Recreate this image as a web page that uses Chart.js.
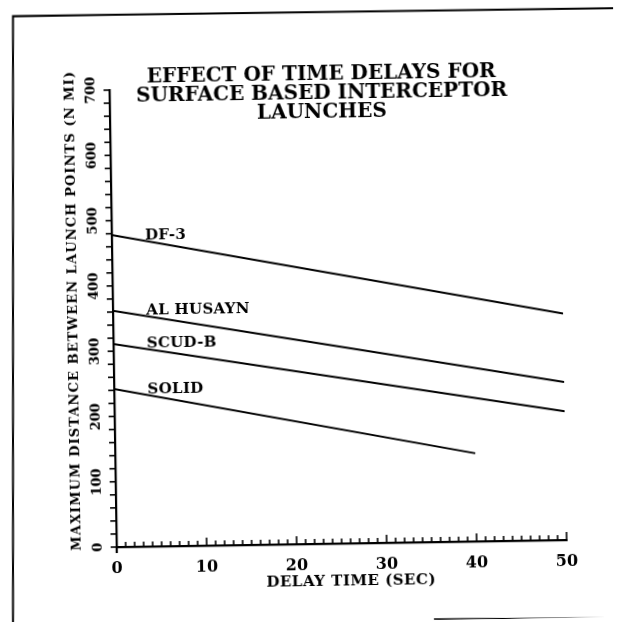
<!DOCTYPE html>
<html>
<head>
<meta charset="utf-8">
<script src="https://cdn.jsdelivr.net/npm/chart.js@4.4.1/dist/chart.umd.min.js"></script>
<style>
  html, body { margin: 0; padding: 0; background: #fff; overflow: hidden; }
  /* the scanned page sits slightly askew */
  #wrap { width: 618px; height: 622px; position: relative; transform: rotate(-0.9deg); transform-origin: 309px 311px; }
</style>
</head>
<body>
<div id="wrap"><canvas id="chart"></canvas></div>
<script>
// values
const seriesNames = ['DF-3', 'AL HUSAYN', 'SCUD-B', 'SOLID'];
const delayFull = [0, 50];      // sec
const delaySolid = [0, 40];     // solid line stops at 40 sec
const df3 = [478, 347];         // n mi
const alHusayn = [362, 242];
const scudB = [311, 197];
const solid = [242, 135];

const xTicks = [0, 10, 20, 30, 40, 50];
const yTicks = [0, 100, 200, 300, 400, 500, 600, 700];
const titleLines = ['EFFECT OF TIME DELAYS FOR', 'SURFACE BASED INTERCEPTOR', 'LAUNCHES'];
const xTitle = 'DELAY TIME (SEC)';
const yTitle = 'MAXIMUM DISTANCE BETWEEN LAUNCH POINTS (N MI)';

const FONT = '"DejaVu Serif", "Liberation Serif", serif';
const TILT = 0.9 * Math.PI / 180;

function pts(xs, ys) {
  return xs.map((x, i) => ({ x: x, y: ys[i] }));
}

const datasets = [
  { label: seriesNames[0], data: pts(delayFull, df3) },
  { label: seriesNames[1], data: pts(delayFull, alHusayn) },
  { label: seriesNames[2], data: pts(delayFull, scudB) },
  { label: seriesNames[3], data: pts(delaySolid, solid) }
].map(d => Object.assign(d, {
  showLine: true,
  borderColor: '#000',
  borderWidth: 2,
  pointRadius: 0,
  tension: 0
}));

// where along the line each series name starts (sec)
const labelAt = 3.7;

function valueAt(data, x) {
  const a = data[0], b = data[data.length - 1];
  return a.y + (b.y - a.y) * (x - a.x) / (b.x - a.x);
}

// frame, minor ticks, rotated y labels, titles and line names
const paperPlugin = {
  id: 'paper',
  afterDraw(chart) {
    const ctx = chart.ctx;
    const xs = chart.scales.x, ys = chart.scales.y;
    ctx.save();
    ctx.strokeStyle = '#000';
    ctx.fillStyle = '#000';

    // page frame is not skewed like the chart, undo the tilt for it
    ctx.save();
    ctx.translate(309, 311);
    ctx.rotate(TILT);
    ctx.translate(-309, -311);
    ctx.lineWidth = 2;
    ctx.beginPath();
    ctx.moveTo(13, 640); ctx.lineTo(13, 16); ctx.lineTo(630, 8);
    ctx.stroke();
    ctx.lineWidth = 1.5;
    ctx.beginPath();
    ctx.moveTo(434, 619); ctx.lineTo(630, 618);
    ctx.stroke();
    ctx.restore();

    // x ticks (every sec, pointing up)
    ctx.lineWidth = 1.6;
    for (let v = 0; v <= 50; v++) {
      const px = xs.getPixelForValue(v);
      const len = v % 10 === 0 ? 8 : 5;
      ctx.beginPath();
      ctx.moveTo(px, xs.top);
      ctx.lineTo(px, xs.top - len);
      ctx.stroke();
    }
    // y ticks (every 20, pointing left)
    for (let v = 0; v <= 700; v += 20) {
      const py = ys.getPixelForValue(v);
      ctx.beginPath();
      ctx.moveTo(ys.right, py);
      ctx.lineTo(ys.right - 6, py);
      ctx.stroke();
    }
    // axis stub below the origin
    ctx.lineWidth = 2.2;
    ctx.beginPath();
    ctx.moveTo(xs.left, xs.top);
    ctx.lineTo(xs.left, xs.top + 6);
    ctx.stroke();

    // rotated y tick labels
    ctx.font = 'bold 13px ' + FONT;
    ctx.letterSpacing = '0px';
    ctx.textAlign = 'center';
    ctx.textBaseline = 'middle';
    ys.ticks.forEach(t => {
      const py = ys.getPixelForValue(t.value);
      ctx.save();
      ctx.translate(95, py);
      ctx.rotate(-Math.PI / 2);
      ctx.fillText(String(t.value), 0, 0);
      ctx.restore();
    });

    // y axis title
    ctx.font = 'bold 13px ' + FONT;
    ctx.letterSpacing = '1.1px';
    ctx.save();
    ctx.translate(74, 307);
    ctx.rotate(-Math.PI / 2);
    ctx.fillText(yTitle, 0, 0);
    ctx.restore();

    // x axis title
    ctx.font = 'bold 15px ' + FONT;
    ctx.letterSpacing = '0.5px';
    ctx.fillText(xTitle, 347, 582);

    // chart title
    ctx.font = 'bold 20px ' + FONT;
    ctx.letterSpacing = '0px';
    titleLines.forEach((s, i) => ctx.fillText(s, 325, 75 + i * 19));

    // series names, sitting on their lines
    ctx.font = 'bold 15px ' + FONT;
    ctx.letterSpacing = '0.3px';
    ctx.textAlign = 'left';
    ctx.textBaseline = 'alphabetic';
    chart.data.datasets.forEach(d => {
      const px = xs.getPixelForValue(labelAt);
      const py = ys.getPixelForValue(valueAt(d.data, labelAt));
      ctx.fillText(d.label, px, py - 1);
    });
    ctx.restore();
  }
};

new Chart(document.getElementById('chart'), {
  type: 'scatter',
  data: { datasets: datasets },
  options: {
    responsive: true,
    maintainAspectRatio: false,
    animation: false,
    layout: { padding: { left: 0, top: 87, right: 55, bottom: 0 } },
    plugins: {
      legend: { display: false },
      tooltip: { enabled: false }
    },
    scales: {
      x: {
        type: 'linear',
        min: xTicks[0],
        max: xTicks[xTicks.length - 1],
        afterFit: s => { s.height = 78; },
        afterBuildTicks: s => { s.ticks = xTicks.map(v => ({ value: v })); },
        grid: { display: false, drawTicks: false },
        border: { display: true, color: '#000', width: 2.2 },
        ticks: {
          color: '#000',
          padding: 12,
          font: { family: FONT, size: 16, weight: 'bold' }
        }
      },
      y: {
        type: 'linear',
        min: yTicks[0],
        max: yTicks[yTicks.length - 1],
        afterFit: s => { s.width = 113; },
        afterBuildTicks: s => { s.ticks = yTicks.map(v => ({ value: v })); },
        grid: { display: false, drawTicks: false },
        border: { display: true, color: '#000', width: 2.2 },
        ticks: { display: false }
      }
    }
  },
  plugins: [paperPlugin]
});
</script>
</body>
</html>
